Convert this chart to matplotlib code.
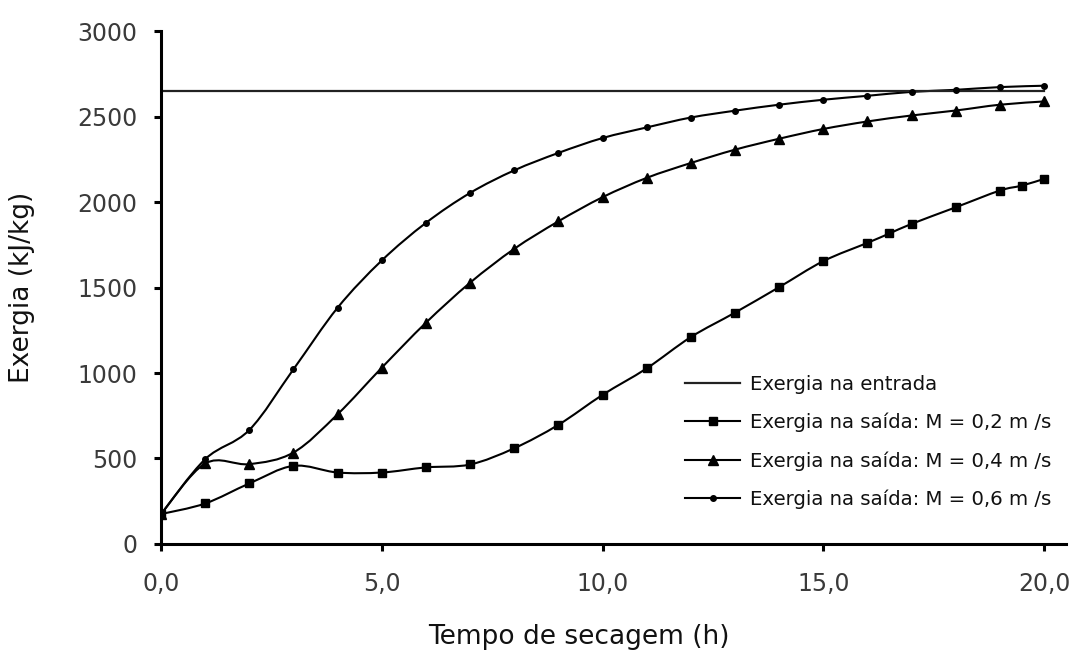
import matplotlib
matplotlib.use('Agg')
import matplotlib.pyplot as plt
from matplotlib.path import Path
from matplotlib.patches import PathPatch
from matplotlib.lines import Line2D

# dados
exergia_entrada = 2650
t_02 = [0, 1, 2, 3, 4, 5, 6, 7, 8, 9, 10, 11, 12, 13, 14, 15, 16, 16.5, 17, 18, 19, 19.5, 20]
ex_02 = [175, 237, 354, 457, 418, 418, 448, 465, 560, 697, 872, 1027, 1210, 1353, 1502,
         1654, 1761, 1816, 1872, 1969, 2067, 2096, 2135]
t_04 = list(range(21))
ex_04 = [175, 471, 467, 535, 759, 1031, 1294, 1528, 1726, 1887, 2028, 2141, 2228, 2306,
         2370, 2427, 2471, 2506, 2535, 2569, 2588]
t_06 = list(range(21))
ex_06 = [175, 496, 667, 1022, 1382, 1658, 1878, 2053, 2185, 2287, 2374, 2436, 2494, 2534,
         2569, 2598, 2621, 2644, 2656, 2672, 2680]

x_ticks = [0, 5, 10, 15, 20]
x_ticklabels = ['0,0', '5,0', '10,0', '15,0', '20,0']
y_ticks = [0, 500, 1000, 1500, 2000, 2500, 3000]

legend_labels = ['Exergia na entrada',
                 'Exergia na saída: M = 0,2 m /s',
                 'Exergia na saída: M = 0,4 m /s',
                 'Exergia na saída: M = 0,6 m /s']

plt.rcParams['font.family'] = ['DejaVu Sans']


def smooth_path(x, y):
    # curva suavizada tipo Excel (bezier cubica, Catmull-Rom)
    pts = list(zip(x, y))
    n = len(pts)
    verts = [pts[0]]
    codes = [Path.MOVETO]
    for i in range(n - 1):
        p0 = pts[i - 1] if i > 0 else pts[i]
        p1 = pts[i]
        p2 = pts[i + 1]
        p3 = pts[i + 2] if i + 2 < n else pts[i + 1]
        c1 = (p1[0] + (p2[0] - p0[0]) / 6, p1[1] + (p2[1] - p0[1]) / 6)
        c2 = (p2[0] - (p3[0] - p1[0]) / 6, p2[1] - (p3[1] - p1[1]) / 6)
        verts += [c1, c2, p2]
        codes += [Path.CURVE4] * 3
    return Path(verts, codes)


fig = plt.figure(figsize=(10.75, 6.57), dpi=100)
ax = fig.add_axes([0.1498, 0.172, 0.8419, 0.7808])

ax.plot([0, 20], [exergia_entrada, exergia_entrada], color='#222222', lw=1.6)

series = [(t_02, ex_02, 's', 6), (t_04, ex_04, '^', 7), (t_06, ex_06, 'o', 4)]
for t, ex, m, ms in series:
    ax.add_patch(PathPatch(smooth_path(t, ex), fill=False, edgecolor='black', lw=1.5))
    ax.plot(t, ex, ls='none', marker=m, ms=ms, color='black')

ax.set_xlim(0, 20.5)
ax.set_ylim(0, 3000)
ax.set_xticks(x_ticks)
ax.set_xticklabels(x_ticklabels)
ax.set_yticks(y_ticks)

for s in ['top', 'right']:
    ax.spines[s].set_visible(False)
for s in ['left', 'bottom']:
    ax.spines[s].set_linewidth(2.2)
ax.tick_params(axis='both', direction='out', length=5, width=2.2,
               labelsize=17, labelcolor='#3a3a3a')
ax.tick_params(axis='x', pad=15)
ax.tick_params(axis='y', pad=12)

ax.set_xlabel('Tempo de secagem (h)', fontsize=19, color='#111111')
ax.set_ylabel('Exergia (kJ/kg)', fontsize=19, color='#111111')
ax.xaxis.set_label_coords(0.4616, -0.181)
ax.yaxis.set_label_coords(-0.154, 0.5)
ax.xaxis.label.set_va('center')
ax.yaxis.label.set_va('center')

handles = [Line2D([], [], color='#222222', lw=1.6),
           Line2D([], [], color='black', lw=1.5, marker='s', ms=6),
           Line2D([], [], color='black', lw=1.5, marker='^', ms=7),
           Line2D([], [], color='black', lw=1.5, marker='o', ms=4)]
ax.legend(handles, legend_labels, loc='center left', bbox_to_anchor=(0.579, 0.199),
          frameon=False, fontsize=14.2, borderpad=0, borderaxespad=0,
          handlelength=2.8, handletextpad=0.5, labelspacing=0.95,
          labelcolor='#111111')

fig.savefig('out.png', dpi=100)
